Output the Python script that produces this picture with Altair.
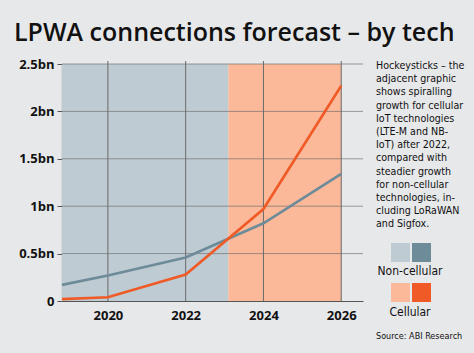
import altair as alt
import pandas as pd

# ---- data ----
years = [2018.82, 2020, 2022, 2024, 2026]
non_cellular = [0.17, 0.27, 0.46, 0.82, 1.34]
cellular = [0.02, 0.04, 0.28, 0.97, 2.27]

period_names = ["Non-cellular", "Cellular"]
period_start = [2018.82, 2023.1]
period_end = [2023.1, 2026.0]

x_ticks = [2020, 2022, 2024, 2026]
y_ticks = [0, 0.5, 1, 1.5, 2, 2.5]

title_text = "LPWA connections forecast – by tech"
note_lines = [
    "Hockeysticks – the", "adjacent graphic", "shows spiralling",
    "growth for cellular", "IoT technologies", "(LTE-M and NB-",
    "IoT) after 2022,", "compared with", "steadier growth",
    "for non-cellular", "technologies, in-", "cluding LoRaWAN",
    "and Sigfox.",
]
source_text = "Source: ABI Research"

BG = "#e7e8ea"
GREY_LIGHT = "#bfcbd2"
GREY_DARK = "#6e8b9a"
ORANGE_LIGHT = "#fbb999"
ORANGE_DARK = "#ef5a26"
GRID = "#6a6a6a"
NARROW = "DejaVu Sans Condensed"

nc_df = pd.DataFrame({"year": years, "value": non_cellular})
c_df = pd.DataFrame({"year": years, "value": cellular})
periods_df = pd.DataFrame({"name": period_names, "start": period_start, "end": period_end,
                           "y0": [0, 0], "y1": [2.5, 2.5]})

xscale = alt.Scale(domain=[2018.82, 2026.56], nice=False, zero=False)
yscale = alt.Scale(domain=[0, 2.5], nice=False)

base_shade = alt.Chart(periods_df).mark_rect().encode(
    x=alt.X("start:Q", scale=xscale, title=None,
            axis=alt.Axis(values=x_ticks, format="d", ticks=False, grid=False,
                          domainColor="#555555", domainWidth=1.2,
                          labelFont="Open Sans", labelFontWeight="bold", labelFontSize=13,
                          labelColor="#111111", labelPadding=8)),
    x2="end:Q",
    y=alt.Y("y0:Q", scale=yscale, title=None,
            axis=alt.Axis(values=y_ticks, grid=False, tickSize=5, tickColor="#555555",
                          domainColor="#555555", domainWidth=1.2,
                          labelExpr="datum.value == 0 ? '0' : datum.value + 'bn'",
                          labelFont="Open Sans", labelFontWeight="bold", labelFontSize=13,
                          labelColor="#111111", labelPadding=3)),
    y2="y1:Q",
    fill=alt.condition(alt.datum.name == "Cellular", alt.value(ORANGE_LIGHT), alt.value(GREY_LIGHT)),
)

vgrid = alt.Chart(pd.DataFrame({"year": x_ticks})).mark_rule(color=GRID, strokeWidth=1).encode(
    x=alt.X("year:Q", scale=xscale), y=alt.value(-3), y2=alt.value(237))
hgrid = alt.Chart(pd.DataFrame({"v": y_ticks[1:]})).mark_rule(color=GRID, strokeWidth=0.8, opacity=0.8).encode(
    y=alt.Y("v:Q", scale=yscale), x=alt.value(0), x2=alt.value(301))

line_nc = alt.Chart(nc_df).mark_line(strokeWidth=2.6, color=GREY_DARK).encode(
    x=alt.X("year:Q", scale=xscale), y=alt.Y("value:Q", scale=yscale))
line_c = alt.Chart(c_df).mark_line(strokeWidth=2.6, color=ORANGE_DARK).encode(
    x=alt.X("year:Q", scale=xscale), y=alt.Y("value:Q", scale=yscale))

one = pd.DataFrame({"a": [0]})
title = alt.Chart(pd.DataFrame({"t": [title_text]})).mark_text(
    align="left", baseline="alphabetic", font="Open Sans", fontWeight=600, fontSize=25,
    color="#111111").encode(x=alt.value(-48), y=alt.value(-23), text="t:N")

note = alt.Chart(pd.DataFrame({"t": ["\n".join(note_lines)]})).mark_text(
    align="left", baseline="top", font=NARROW, fontSize=10.6,
    lineHeight=13.2, lineBreak="\n", color="#111111").encode(
    x=alt.value(314), y=alt.value(-3), text="t:N")

def swatch(x0, y0, color):
    return alt.Chart(one).mark_rect(color=color).encode(
        x=alt.value(x0), x2=alt.value(x0 + 19), y=alt.value(y0), y2=alt.value(y0 + 19))

sw = [swatch(329, 179, GREY_LIGHT), swatch(350, 179, GREY_DARK),
      swatch(329, 219, ORANGE_LIGHT), swatch(350, 219, ORANGE_DARK)]

leg_nc = alt.Chart(pd.DataFrame({"t": ["Non-cellular"]})).mark_text(
    align="center", baseline="middle", font=NARROW, fontSize=12,
    color="#111111").encode(x=alt.value(348), y=alt.value(207), text="t:N")
leg_c = alt.Chart(pd.DataFrame({"t": ["Cellular"]})).mark_text(
    align="center", baseline="middle", font=NARROW, fontSize=12,
    color="#111111").encode(x=alt.value(348), y=alt.value(248), text="t:N")

source = alt.Chart(pd.DataFrame({"t": [source_text]})).mark_text(
    align="left", baseline="middle", font=NARROW, fontSize=9,
    color="#111111").encode(x=alt.value(314), y=alt.value(272), text="t:N")

chart = alt.layer(base_shade, hgrid, vgrid, line_nc, line_c, title, note, *sw,
                  leg_nc, leg_c, source).properties(
    width=301, height=237,
    padding={"left": 62, "top": 64, "right": 111, "bottom": 52},
    autosize=alt.AutoSizeParams(type="none"),
).configure(background=BG).configure_view(strokeWidth=0)

chart.save("out.html", embed_options={"renderer": "svg", "actions": False})
